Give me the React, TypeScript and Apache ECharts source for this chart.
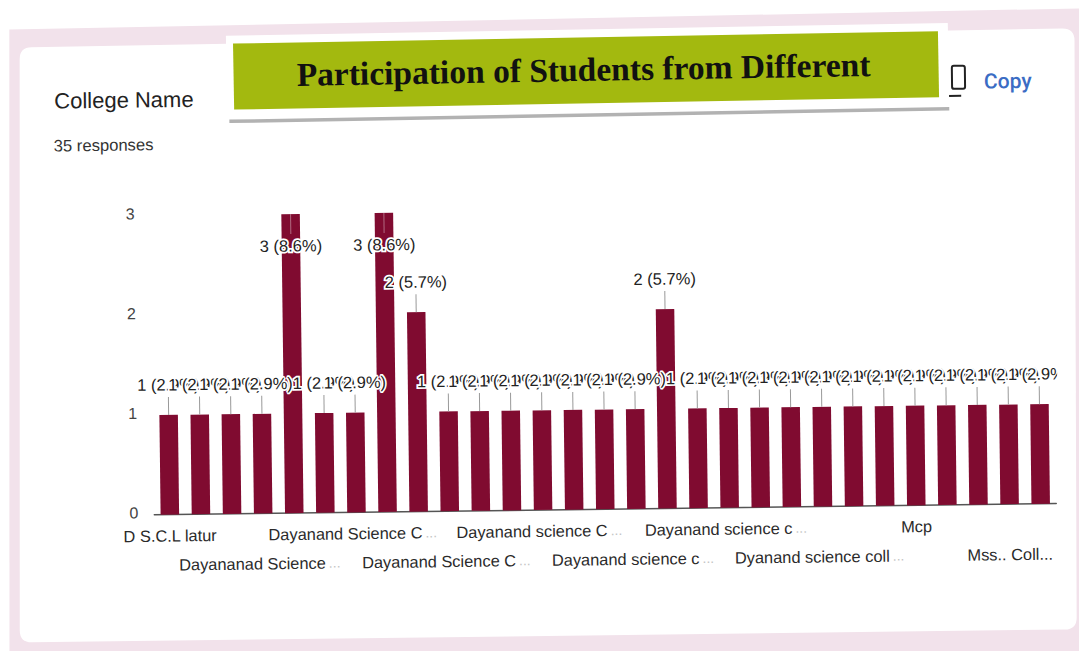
import React, { useEffect, useRef } from "react";
import * as echarts from "echarts";

const categories = [
  "D S.C.L latur", "D S.C.L latur", "Dayanad Science...",
  "Dayananad Science...", "Dayanand Science C...", "Dayanand Science C...",
  "Dayanand Science C...", "Dayanand Science C...", "Dayanand Science C...",
  "Dayanand Science C...", "Dayanand Science C...", "Dayanand science C...",
  "Dayanand science C...", "Dayanand science C...", "Dayanand science c...",
  "Dayanand science c...", "Dayanand science c...", "Dayanand science c...",
  "Dayanand science c...", "Dayanand science c...", "Dyanand science coll...",
  "Dyanand science coll...", "Dyanand science coll...", "Mcp",
  "Mcp", "Mss.. Coll...", "Mss.. Coll...",
  "Mss.. Coll...", "Mss.. Coll...",
];
const counts = [1, 1, 1, 1, 3, 1, 1, 3, 2, 1, 1, 1, 1, 1, 1, 1, 2, 1, 1, 1, 1, 1, 1, 1, 1, 1, 1, 1, 1];
const percents = ["2.9", "2.9", "2.9", "2.9", "8.6", "2.9", "2.9", "8.6", "5.7", "2.9", "2.9", "2.9", "2.9", "2.9", "2.9", "2.9", "5.7", "2.9", "2.9", "2.9", "2.9", "2.9", "2.9", "2.9", "2.9", "2.9", "2.9", "2.9", "2.9"];
const yTicks = [0, 1, 2, 3];
const titleText = "Participation of Students from Different";
const questionText = "College Name";
const responsesText = "35 responses";
const copyText = "Copy";

const OFF = 40;
const SANS = "'Liberation Sans', Arial, sans-serif";

echarts.graphic.registerShape(
  "paperCard",
  echarts.graphic.extendPath(
    "M35 41 L1066 35 Q1078 35 1078 47 L1073 624 Q1073 636 1061 636 L28 636 Q16 636 16 624 L23 53 Q23 41 35 41 Z",
    {}
  )
);
echarts.graphic.registerShape(
  "paperBack",
  echarts.graphic.extendPath("M13 23 L1095 15 L1095 680 L5 680 Z", {})
);

const rowLabel = (margin: number, remainder: number) => ({
  interval: (index: number) => index % 6 === remainder,
  margin,
  color: "#2a2a2a",
  fontFamily: SANS,
  fontSize: 16.4,
  lineHeight: 28,
  rich: {
    t: { color: "#2a2a2a", fontFamily: SANS, fontSize: 16.4, lineHeight: 28 },
    e: { color: "#c4c4c4", fontFamily: SANS, fontSize: 14, lineHeight: 28, padding: [0, 8, 0, 3] },
  },
  formatter: (value: string) => {
    const isCut = value.endsWith("...") && !value.startsWith("Mss");
    return isCut ? `{t|${value.slice(0, -3)}}{e|...}` : `{t|${value}}`;
  },
});

export default function App() {
  const ref = useRef<HTMLDivElement>(null);
  useEffect(() => {
    if (!ref.current) return;
    const chart = echarts.init(ref.current, undefined, { renderer: "svg" });
    chart.setOption({
      animation: false,
      backgroundColor: "#ffffff",
      grid: { left: 152 + OFF, top: 211 + OFF, width: 902, height: 299, containLabel: false },
      xAxis: [
        {
          type: "category",
          position: "bottom",
          data: categories,
          axisLine: { lineStyle: { color: "#555", width: 1.5 } },
          axisTick: { show: false },
          axisLabel: rowLabel(7, 0),
        },
        {
          type: "category",
          position: "bottom",
          data: categories,
          axisLine: { show: false },
          axisTick: { show: false },
          axisLabel: rowLabel(36, 3),
        },
      ],
      yAxis: {
        type: "value",
        min: yTicks[0],
        max: yTicks[yTicks.length - 1],
        interval: 1,
        splitLine: { show: false },
        axisLine: { show: false },
        axisTick: { show: false },
        axisLabel: {
          color: "#444",
          fontFamily: SANS,
          fontSize: 16,
          margin: 16,
          verticalAlign: "bottom",
          lineHeight: 4,
        },
      },
      series: [
        {
          type: "bar",
          xAxisIndex: 0,
          z: 2,
          barWidth: 18.5,
          data: counts.map((v, i) => ({
            value: v,
            label: {
              show: true,
              position: v === 3 ? "insideTop" : "top",
              distance: v === 3 ? 23 : 22,
              formatter: `${v} (${percents[i]}%)`,
              color: "#222",
              fontFamily: SANS,
              fontSize: 16.5,
              textBorderColor: "#ffffff",
              textBorderWidth: 3.5,
            },
          })),
          itemStyle: { color: "#800b30" },
        },
        {
          type: "custom",
          xAxisIndex: 0,
          z: 3,
          silent: true,
          data: counts.map((v, i) => [i, v]),
          renderItem: (_p: any, api: any) => {
            const pt = api.coord([api.value(0), api.value(1)]);
            const full = api.value(1) === 3;
            return {
              type: "line",
              shape: { x1: pt[0], y1: pt[1], x2: pt[0], y2: full ? pt[1] + 20 : pt[1] - 18 },
              style: { stroke: full ? "#b06a80" : "#999", lineWidth: 1 },
            };
          },
        },
      ],
      graphic: [
        {
          type: "group",
          x: OFF,
          y: OFF,
          z: -10,
          children: [
            { type: "paperBack", x: 0, y: 0, z: -10, style: { fill: "#f2e2eb" } },
            { type: "paperCard", x: 0, y: 0, z: -9, style: { fill: "#ffffff" } },
            {
              type: "text", x: 57, y: 95, z: -8,
              style: { text: questionText, fill: "#222", fontFamily: SANS, fontSize: 22, textVerticalAlign: "middle" },
            },
            {
              type: "text", x: 56, y: 140, z: -8,
              style: { text: responsesText, fill: "#333", fontFamily: SANS, fontSize: 16.6, textVerticalAlign: "middle" },
            },
            {
              type: "rect", z: -8,
              shape: { x: 955, y: 71, width: 13, height: 23, r: 2 },
              style: { fill: "none", stroke: "#222", lineWidth: 2 },
            },
            {
              type: "rect", z: -8,
              shape: { x: 951, y: 100, width: 13, height: 2 },
              style: { fill: "#222" },
            },
            {
              type: "text", x: 987, y: 87, z: -8,
              style: { text: copyText, fill: "#3b6cc4", fontFamily: "Roboto, " + SANS, fontSize: 21, fontWeight: 500, textVerticalAlign: "middle" },
            },
          ],
        },
        {
          type: "group",
          x: OFF + 589.7,
          y: OFF + 71,
          rotation: 0.005,
          z: 50,
          children: [
            { type: "rect", z: 50, shape: { x: -360, y: -41, width: 722, height: 85 }, style: { fill: "#ffffff" } },
            { type: "rect", z: 50, shape: { x: -358, y: 43, width: 720, height: 3.5 }, style: { fill: "#b2b2b2" } },
            { type: "rect", z: 51, shape: { x: -353, y: -33, width: 705, height: 66 }, style: { fill: "#a3b90f" } },
            {
              type: "text", x: -3, y: -1, z: 52,
              style: {
                text: titleText, fill: "#111",
                fontFamily: "'Liberation Serif', 'Times New Roman', serif",
                fontWeight: "bold", fontSize: 33.5,
                textAlign: "center", textVerticalAlign: "middle",
              },
            },
          ],
        },
        {
          type: "rect",
          z: 60,
          shape: { x: OFF + 1056.5, y: OFF + 340, width: 18, height: 60 },
          style: { fill: "#ffffff" },
        },
      ],
    });
    return () => chart.dispose();
  }, []);
  return (
    <div style={{ position: "fixed", inset: 0, overflow: "hidden", background: "#fff" }}>
      <div
        ref={ref}
        style={{
          position: "absolute",
          left: -OFF,
          top: -OFF,
          width: 1079 + 2 * OFF,
          height: 651 + 2 * OFF,
          transform: "rotate(-0.71deg)",
          transformOrigin: "50% 50%",
        }}
      />
    </div>
  );
}
